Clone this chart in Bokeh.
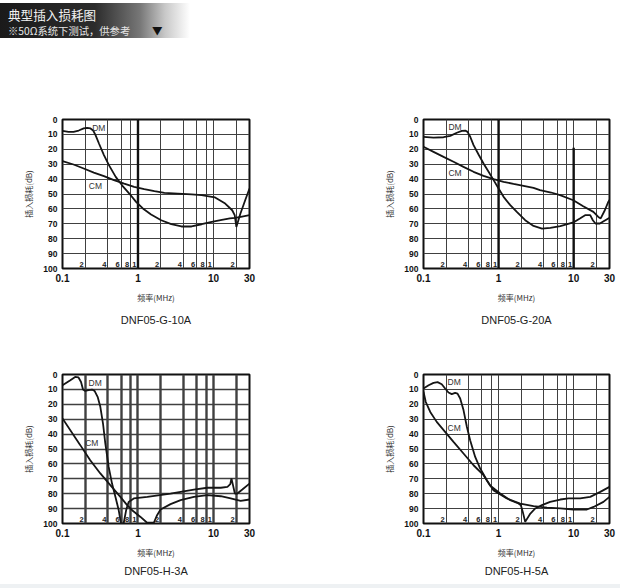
from bokeh.plotting import figure
from bokeh.models import Range1d, FixedTicker, Div, NumeralTickFormatter, Title
from bokeh.layouts import column, row
from bokeh.core.properties import value
from bokeh.embed import file_html
from bokeh.resources import INLINE

# ---------------- data ----------------
titles = ["DNF05-G-10A", "DNF05-G-20A", "DNF05-H-3A", "DNF05-H-5A"]
x_ticks = [0.1, 1, 10, 30]
y_ticks = [0, 10, 20, 30, 40, 50, 60, 70, 80, 90, 100]
grid_f = [0.2, 0.4, 0.6, 0.8, 1, 2, 4, 6, 8, 10, 20]
grid_labels = ["2", "4", "6", "8", "1", "2", "4", "6", "8", "1", "2"]
x_label = "频率(MHz)"
y_label = "插入损耗(dB)"

g10_dm_f = [0.1, 0.12, 0.14, 0.164, 0.191, 0.212, 0.235, 0.255, 0.274, 0.304, 0.354, 0.412, 0.507, 0.623,
            0.767, 0.943, 1.16, 1.49, 2.03, 2.76, 3.76, 5.12, 6.97, 9.5, 12.9, 16.5, 19.4, 23.0, 30.0]
g10_dm_db = [7.6, 8.3, 8.3, 7.4, 6.0, 5.6, 6.0, 7.4, 10.5, 16.1, 23.9, 30.6, 38.5, 44.5,
             49.7, 55.3, 59.7, 63.8, 67.6, 70.2, 71.8, 71.8, 70.3, 68.7, 67.3, 66.4, 66.0, 65.3, 64.2]
g10_cm_f = [0.1, 0.14, 0.191, 0.26, 0.354, 0.48, 0.656, 0.89, 1.21, 1.65, 2.24, 3.38, 5.12, 6.97, 9.5,
            10.5, 14.3, 17.7, 19.1, 20.1, 22.7, 26.3, 30.0]
g10_cm_db = [28.0, 30.2, 32.9, 35.6, 38.0, 40.7, 43.0, 45.2, 46.8, 48.1, 49.2, 49.7, 50.3, 50.8, 51.9,
             52.3, 56.4, 60.9, 64.2, 72.1, 63.3, 54.2, 46.3]

g20_dm_f = [0.1, 0.136, 0.185, 0.227, 0.278, 0.324, 0.359, 0.386, 0.419, 0.464, 0.541, 0.63, 0.736, 0.858,
            1.0, 1.166, 1.43, 1.75, 2.26, 2.92, 3.79, 4.89, 6.64, 9.9, 12.1, 14.2, 16.6, 18.0, 19.5, 22.3,
            28.9, 30.0]
g20_dm_db = [11.6, 12.1, 11.9, 11.0, 8.9, 7.6, 7.4, 8.3, 11.6, 17.2, 23.5, 29.5, 35.1, 40.7,
             46.3, 51.9, 57.5, 62.0, 67.6, 71.4, 73.2, 72.7, 71.6, 69.1, 66.4, 64.2, 64.2, 67.6, 69.8, 69.8,
             66.4, 66.0]
g20_cm_f = [0.1, 0.136, 0.185, 0.251, 0.341, 0.464, 0.63, 0.858, 1.166, 1.58, 2.15, 2.92, 3.56, 5.0, 6.58,
            9.9, 13.4, 18.3, 21.3, 22.9, 26.0, 28.9, 30.0]
g20_cm_db = [18.3, 21.7, 25.1, 28.4, 31.8, 35.1, 37.8, 40.0, 41.8, 43.2, 44.5, 45.9, 47.4, 49.0, 50.8,
             54.2, 58.2, 62.0, 65.4, 66.4, 60.9, 55.3, 54.0]

h3_dm_f = [0.1, 0.127, 0.147, 0.163, 0.176, 0.187, 0.2, 0.221, 0.246, 0.266, 0.292, 0.317, 0.344, 0.369,
           0.409, 0.453, 0.502, 0.555, 0.596, 0.645, 0.697, 0.752, 0.88, 1.33, 2.7, 3.67, 5.5, 8.3, 12.5,
           15.3, 16.7, 17.3, 18.0, 19.2, 20.7, 24.1, 30.0]
h3_dm_db = [7.2, 3.8, 1.6, 2.0, 5.0, 10.1, 11.0, 10.5, 10.1, 11.0, 15.0, 21.7, 32.9, 46.3,
            62.0, 73.2, 82.1, 91.0, 100.0, 100.0, 91.0, 85.5, 83.2, 82.1, 79.9, 78.7, 77.2, 76.0, 76.0,
            75.4, 73.6, 69.8, 73.6, 79.9, 79.9, 77.2, 73.2]
h3_cm_f = [0.1, 0.172, 0.233, 0.317, 0.43, 0.584, 0.718, 0.836, 1.08, 1.32, 1.62, 1.79, 1.99, 2.7, 3.67,
           5.5, 8.3, 12.5, 16.9, 22.9, 30.0]
h3_cm_db = [29.5, 47.4, 57.5, 66.4, 74.3, 82.1, 87.7, 91.1, 95.6, 99.5, 99.5, 94.4, 90.6, 87.0, 84.3,
            82.1, 81.0, 81.7, 83.2, 84.8, 83.9]

h5_dm_f = [0.1, 0.117, 0.136, 0.154, 0.175, 0.194, 0.215, 0.238, 0.264, 0.284, 0.308, 0.341, 0.378, 0.418,
           0.488, 0.569, 0.698, 0.85, 1.29, 1.94, 2.92, 4.42, 6.63, 9.95, 15.0, 18.4, 24.9, 30.0]
h5_dm_db = [9.4, 7.2, 5.6, 5.1, 6.5, 9.4, 12.1, 13.2, 12.3, 12.8, 16.1, 23.9, 35.1, 44.1,
            55.3, 63.1, 70.9, 77.6, 83.2, 86.6, 88.4, 89.3, 89.9, 90.6, 90.6, 88.9, 85.5, 82.1]
h5_cm_f = [0.1, 0.107, 0.123, 0.15, 0.194, 0.251, 0.341, 0.464, 0.63, 0.77, 1.05, 1.43, 1.84, 1.98, 2.1,
           2.26, 2.65, 3.08, 3.78, 4.86, 6.63, 8.53, 12.2, 16.6, 22.6, 30.0]
h5_cm_db = [11.6, 18.3, 25.1, 31.8, 38.5, 45.2, 53.0, 60.9, 67.6, 74.5, 79.9, 84.4, 86.6, 87.7, 92.2,
            98.9, 93.3, 89.9, 87.7, 85.5, 83.9, 83.2, 83.2, 82.1, 78.8, 75.4]

# label anchors (freq, dB) for the DM / CM tags
g10_tags = [(0.247, 5.6), (0.223, 44.7)]
g20_tags = [(0.215, 4.9), (0.215, 36.2)]
h3_tags = [(0.221, 5.6), (0.2, 46.3)]
h5_tags = [(0.209, 4.9), (0.209, 36.2)]
tag_texts = ["DM", "CM"]

# heavy decade lines (freq, top dB) per chart
g10_heavy = [(1, 0)]
g20_heavy = [(1, 0), (10, 19)]
h3_heavy = []
h5_heavy = []

LATIN = "Liberation Sans"
CJK = "Noto Sans CJK SC"


def make_chart(title, dm_f, dm_db, cm_f, cm_db, tags, heavy, w, h, bl, br, bt, bb, title_gap, grid_w, hgrid_w):
    p = figure(width=w, height=h, x_axis_type="log", x_range=Range1d(0.1, 30), y_range=Range1d(100, 0),
               output_backend="svg", toolbar_location=None,
               min_border_left=bl, min_border_right=br, min_border_top=bt, min_border_bottom=bb)
    p.background_fill_color = "white"
    p.border_fill_color = "white"
    p.outline_line_color = "#111111"
    p.outline_line_width = 2

    p.xaxis.ticker = FixedTicker(ticks=x_ticks)
    p.xaxis.formatter = NumeralTickFormatter(format="0.[0]")
    p.yaxis.ticker = FixedTicker(ticks=y_ticks)
    for ax in (p.xaxis[0], p.yaxis[0]):
        ax.axis_line_color = None
        ax.major_tick_line_color = None
        ax.minor_tick_line_color = None
        ax.major_tick_out = 0
        ax.major_tick_in = 0
        ax.minor_tick_out = 0
        ax.minor_tick_in = 0
        ax.major_label_text_font = LATIN
        ax.major_label_text_font_style = "bold"
        ax.major_label_text_color = "#111111"
        ax.major_label_standoff = 5
        ax.axis_label_text_font = CJK
        ax.axis_label_text_font_style = "normal"
        ax.axis_label_text_font_size = "8px"
        ax.axis_label_text_color = "#333333"
    p.xaxis.major_label_text_font_size = "10px"
    p.yaxis.major_label_text_font_size = "8.5px"
    p.xaxis.axis_label = x_label
    p.yaxis.axis_label = y_label
    p.xaxis.axis_label_standoff = 7
    p.yaxis.axis_label_standoff = 6

    p.xgrid.ticker = FixedTicker(ticks=grid_f)
    p.ygrid.ticker = FixedTicker(ticks=y_ticks[1:-1])
    p.xgrid.grid_line_color = "#404040"
    p.ygrid.grid_line_color = "#404040"
    p.xgrid.grid_line_width = grid_w
    p.ygrid.grid_line_width = hgrid_w

    for f, top in heavy:
        p.segment(x0=[f], y0=[top], x1=[f], y1=[100], line_color="#111111", line_width=2.4)

    p.text(x=grid_f, y=[97] * len(grid_f), text=grid_labels, text_font=value(LATIN),
           text_font_style="bold", text_font_size="7.5px", text_align="right",
           text_baseline="middle", x_offset=-1.5, text_color="#222222")

    p.line(dm_f, dm_db, line_color="#151515", line_width=1.8)
    p.line(cm_f, cm_db, line_color="#151515", line_width=1.8)

    p.text(x=[t[0] for t in tags], y=[t[1] for t in tags], text=tag_texts, text_font=value(LATIN),
           text_font_size="8.5px", text_align="left", text_baseline="middle", text_color="#333333")

    p.add_layout(Title(text=title, align="center", text_font=LATIN, text_font_size="11px",
                       text_font_style="normal", text_color="#222222", standoff=title_gap), "below")
    return p


header = Div(width=620, height=38, margin=0, text=(
    '<div style="position:absolute;left:0px;top:3px;width:192px;height:35px;'
    'background:linear-gradient(to right,#1a1a1a 0px,#2c2c2c 95px,#777777 140px,#c8c8c8 165px,#ffffff 190px);'
    'font-family:\'Noto Sans CJK SC\',sans-serif;">'
    '<div style="position:absolute;left:8px;top:4px;color:#f2f2f2;font-size:12.6px;line-height:15px;'
    'white-space:nowrap;">典型插入损耗图</div>'
    '<div style="position:absolute;left:8px;top:21px;color:#e6e6e6;font-size:10.3px;line-height:13px;'
    'white-space:nowrap;">※50Ω系统下测试，供参考</div>'
    '<div style="position:absolute;left:152px;top:22px;color:#111111;font-size:10.5px;line-height:12px;">▼</div>'
    '</div>'))

footer = Div(width=620, height=8, margin=0,
             text='<div style="width:620px;height:8px;background:#eef1f3;"></div>')

p1 = make_chart(titles[0], g10_dm_f, g10_dm_db, g10_cm_f, g10_cm_db, g10_tags, g10_heavy,
                310, 297, 62, 61, 81, 67, 12, 1, 1)
p2 = make_chart(titles[1], g20_dm_f, g20_dm_db, g20_cm_f, g20_cm_db, g20_tags, g20_heavy,
                310, 297, 113, 11, 81, 67, 12, 1, 1)
p3 = make_chart(titles[2], h3_dm_f, h3_dm_db, h3_cm_f, h3_cm_db, h3_tags, h3_heavy,
                310, 245, 62, 61, 39, 57, 4, 2.4, 1.6)
p4 = make_chart(titles[3], h5_dm_f, h5_dm_db, h5_cm_f, h5_cm_db, h5_tags, h5_heavy,
                310, 245, 113, 11, 39, 57, 4, 1, 1)

layout = column(header, row(p1, p2), row(p3, p4), footer)
open("out.html", "w").write(file_html(layout, INLINE))
